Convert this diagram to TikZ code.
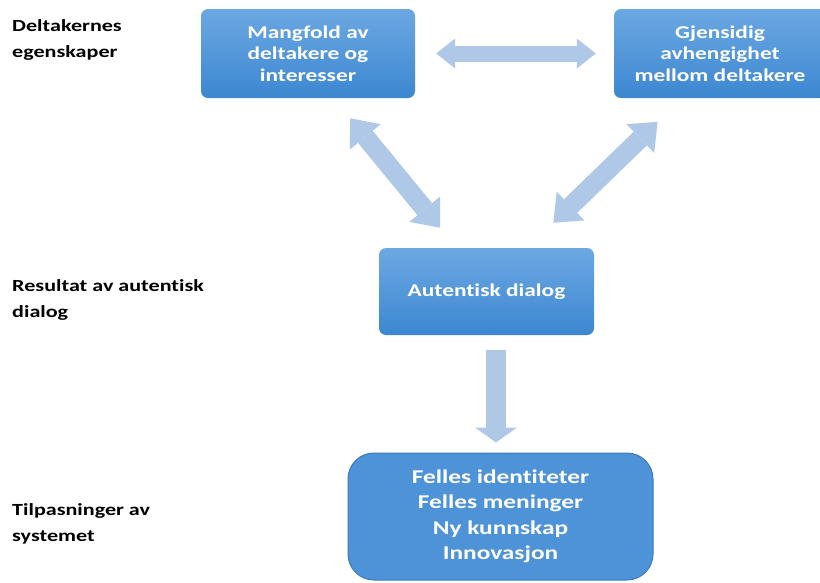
\documentclass[tikz,border=0pt]{standalone}
\usepackage{fontspec}
\setmainfont{Carlito}[FakeStretch=1.3,Ligatures=NoCommon]
\usetikzlibrary{arrows.meta}
\definecolor{boxtop}{HTML}{6CA8E2}
\definecolor{boxbot}{HTML}{3C87D1}
\definecolor{boxflat}{HTML}{4E93D7}
\definecolor{boxline}{HTML}{3A7BBE}
\definecolor{pale}{HTML}{AFC8E8}
\begin{document}
\begin{tikzpicture}[x=1pt,y=-1pt,
	box/.style={rounded corners=7pt,top color=boxtop,bottom color=boxbot,text=white,align=center,inner sep=0pt,font=\bfseries\fontsize{18}{21.5}\selectfont},
	resultbox/.style={rounded corners=26pt,fill=boxflat,draw=boxline,line width=1pt,text=white,align=center,font=\bfseries\fontsize{19.5}{25.5}\selectfont},
	rowlabel/.style={anchor=north west,align=left,inner sep=0pt,font=\bfseries\fontsize{17}{26.5}\selectfont},
	fatarrow/.style={draw=pale,line width=16pt,{Triangle[length=19pt,width=30pt,line width=0pt]}-{Triangle[length=19pt,width=30pt,line width=0pt]}},
	slantarrow/.style={draw=pale,line width=19pt,{Triangle[length=24pt,width=40pt,line width=0pt]}-{Triangle[length=24pt,width=40pt,line width=0pt]}},
	downarrow/.style={draw=pale,line width=20pt,-{Triangle[length=15pt,width=42pt,line width=0pt]}}]
	\useasboundingbox (0,0) rectangle (820,582);
	% row labels
	\node[rowlabel](lab1) at (12,19) {Deltakernes\\egenskaper};
	\node[rowlabel](lab2) at (12,279) {Resultat av autentisk\\dialog};
	\node[rowlabel](lab3) at (12,503) {Tilpasninger av\\systemet};
	% boxes
	\node[box,minimum width=214pt,minimum height=89pt](mangfold) at (308,53.5) {Mangfold av\\deltakere og\\interesser};
	\node[box,minimum width=212pt,minimum height=89pt](gjensidig) at (720,53.5) {Gjensidig\\avhengighet\\mellom deltakere};
	\node[box,minimum width=215pt,minimum height=87pt](dialog) at (486.5,291.5) {Autentisk dialog};
	\node[resultbox,minimum width=305pt,minimum height=127pt](resultat) at (500.5,516.5) {Felles identiteter\\Felles meninger\\Ny kunnskap\\Innovasjon};
	% arrows
	\draw[fatarrow,shorten <=21pt,shorten >=18pt] (mangfold.east) -- (gjensidig.west);
	\draw[slantarrow,shorten <=26pt,shorten >=26pt] ([xshift=25.6pt]mangfold.south) -- ([xshift=-30pt]dialog.north);
	\draw[slantarrow,shorten <=34pt,shorten >=36pt] ([xshift=-38pt]gjensidig.south) -- ([xshift=41pt]dialog.north);
	\draw[downarrow,shorten <=15pt,shorten >=10pt] ([xshift=9.5pt]dialog.south) -- ([xshift=-4.5pt]resultat.north);
\end{tikzpicture}
\end{document}
